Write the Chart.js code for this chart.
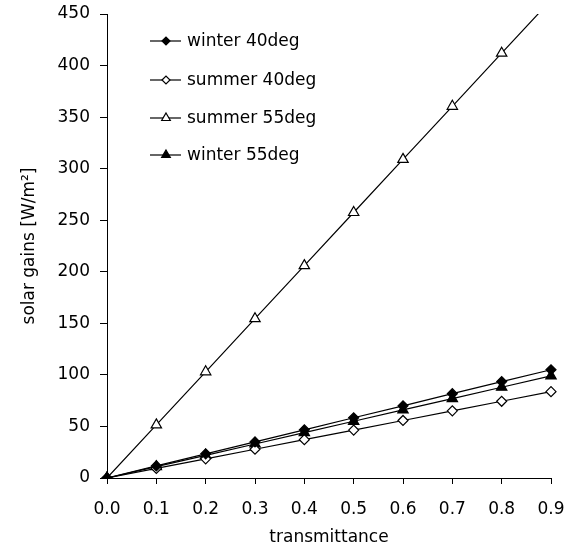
<!DOCTYPE html>
<html>
<head>
<meta charset="utf-8">
<script src="https://cdn.jsdelivr.net/npm/chart.js@4"></script>
<style>
  body { margin: 0; background: #fff; }
  #grafico { display: block; }
</style>
</head>
<body>
<canvas id="grafico" width="571" height="550"></canvas>
<script>
const transmittance = ['0.0', '0.1', '0.2', '0.3', '0.4', '0.5', '0.6', '0.7', '0.8', '0.9'];
const winter40 = [0, 11.7, 23.4, 35, 46.7, 58.4, 70, 81.8, 93.5, 105];
const summer40 = [0, 9.3, 18.6, 27.9, 37.2, 46.5, 55.8, 65.1, 74.4, 83.7];
const summer55 = [0, 51.5, 103, 154.5, 206, 257.5, 309, 360.5, 412, 463.5];
const winter55 = [0, 11, 22, 33, 44, 55, 66, 77, 88, 99];
const yTicks = [0, 50, 100, 150, 200, 250, 300, 350, 400, 450];

const fonte = 'DejaVu Sans';

function serie(label, data, pointStyle, fill, radius) {
    return {
        label: label,
        data: data,
        borderColor: '#000',
        borderWidth: 1.2,
        backgroundColor: fill,
        pointStyle: pointStyle,
        pointRadius: radius,
        pointBorderColor: '#000',
        pointBackgroundColor: fill,
        pointBorderWidth: 1.2,
        tension: 0
    };
}

// legenda desenhada à mão: linha + marcador + texto
const legendaPlugin = {
    id: 'legenda',
    afterDraw(chart) {
        const ctx = chart.ctx;
        const ys = [41, 80, 118, 155];
        chart.data.datasets.forEach((ds, i) => {
            const y = ys[i];
            ctx.save();
            ctx.strokeStyle = '#000';
            ctx.lineWidth = 1.2;
            ctx.beginPath();
            ctx.moveTo(150, y);
            ctx.lineTo(181, y);
            ctx.stroke();
            ctx.fillStyle = ds.pointBackgroundColor;
            ctx.strokeStyle = '#000';
            Chart.helpers.drawPoint(ctx, {
                pointStyle: ds.pointStyle,
                radius: ds.pointRadius - 1,
                rotation: 0,
                borderWidth: 1.2
            }, 166, y);
            ctx.fillStyle = '#000';
            ctx.font = '17px "' + fonte + '"';
            ctx.textBaseline = 'middle';
            ctx.textAlign = 'left';
            ctx.fillText(ds.label, 187, y + 1);
            ctx.restore();
        });
    }
};

new Chart(document.getElementById('grafico'), {
    type: 'line',
    data: {
        labels: transmittance,
        datasets: [
            serie('winter 40deg', winter40, 'rectRot', '#000', 5),
            serie('summer 40deg', summer40, 'rectRot', '#fff', 5),
            serie('summer 55deg', summer55, 'triangle', '#fff', 6),
            serie('winter 55deg', winter55, 'triangle', '#000', 6)
        ]
    },
    options: {
        responsive: false,
        animation: false,
        layout: { padding: { top: 14, right: 20, bottom: 0, left: 0 } },
        plugins: {
            legend: { display: false },
            tooltip: { enabled: false }
        },
        scales: {
            x: {
                type: 'category',
                offset: false,
                grid: { drawOnChartArea: false, color: '#000', tickLength: 6 },
                border: { color: '#000' },
                ticks: {
                    color: '#000',
                    font: { family: fonte, size: 17 },
                    padding: 15,
                    maxRotation: 0,
                    autoSkip: false
                },
                title: {
                    display: true,
                    text: 'transmittance',
                    color: '#000',
                    font: { family: fonte, size: 17 },
                    padding: { top: 4, bottom: 2 }
                },
                afterFit: s => {
                    s.height = 72;
                    s.paddingLeft = 0;
                    s.paddingRight = 0;
                }
            },
            y: {
                min: 0,
                max: 450,
                afterBuildTicks: s => { s.ticks = yTicks.map(v => ({ value: v })); },
                grid: { drawOnChartArea: false, color: '#000', tickLength: 7 },
                border: { color: '#000' },
                ticks: {
                    color: '#000',
                    font: { family: fonte, size: 17 },
                    padding: 10
                },
                title: {
                    display: true,
                    text: 'solar gains [W/m²]',
                    color: '#000',
                    font: { family: fonte, size: 17 },
                    padding: { top: 19, bottom: 4 }
                },
                afterFit: s => {
                    s.width = 107;
                    s.paddingTop = 0;
                    s.paddingBottom = 0;
                }
            }
        }
    },
    plugins: [legendaPlugin]
});
</script>
</body>
</html>
